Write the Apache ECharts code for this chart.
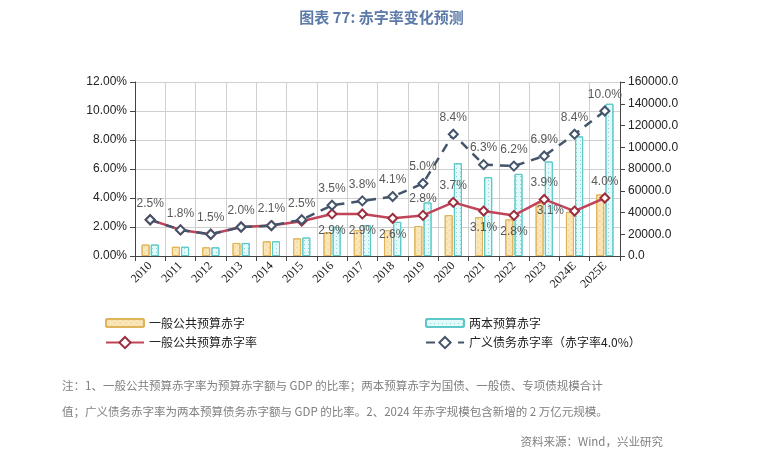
<!DOCTYPE html><html><head><meta charset="utf-8"><script src="https://cdn.jsdelivr.net/npm/echarts@6/dist/echarts.min.js"></script></head><body style="margin:0;background:#fff"><div id="c" style="width:763px;height:457px"></div><script>
const years=['2010','2011','2012','2013','2014','2015','2016','2017','2018','2019','2020','2021','2022','2023','2024E','2025E'];
const generalDeficit=[10500,8500,8000,12000,13500,16200,21800,23800,23800,27600,37600,35700,33700,48800,40600,56600];
const twoBudgetDeficit=[10500,8500,8000,12000,13500,17000,26800,28300,31400,49200,85300,72400,75500,86900,110000,140000];
const generalRate=[2.5,1.8,1.5,2.0,2.1,2.4,2.9,2.9,2.6,2.8,3.7,3.1,2.8,3.9,3.1,4.0];
const broadRate=[2.5,1.8,1.5,2.0,2.1,2.5,3.5,3.8,4.1,5.0,8.4,6.3,6.2,6.9,8.4,10.0];
const redPos=[null,null,null,null,null,null,'bottom','bottom','bottom','top','top','bottom','bottom','top','left','top'];
const c=echarts.init(document.getElementById('c'));
const F='"Noto Sans CJK SC",sans-serif';
const lab={color:'#595959',fontSize:12,fontFamily:'Liberation Sans'};
c.setOption({
animation:false,
title:{text:'图表 77: 赤字率变化预测',left:'center',top:5,textStyle:{color:'#5b7aa8',fontSize:15,fontWeight:'bold',fontFamily:F}},
grid:{left:135,right:143,top:82,bottom:201},
legend:[
{data:['一般公共预算赤字'],left:100,top:312,itemWidth:38,itemHeight:8,textStyle:{fontFamily:F,fontSize:12,color:'#222'}},
{data:['两本预算赤字'],left:420,top:312,itemWidth:38,itemHeight:8,textStyle:{fontFamily:F,fontSize:12,color:'#222'}},
{data:['一般公共预算赤字率'],left:100,top:331,itemWidth:38,textStyle:{fontFamily:F,fontSize:12,color:'#222'}},
{data:['广义债务赤字率（赤字率4.0%）'],left:420,top:331,itemWidth:38,textStyle:{fontFamily:F,fontSize:12,color:'#222'}}],
xAxis:{type:'category',data:years,axisTick:{show:true,alignWithLabel:false,lineStyle:{color:'#444'}},axisLine:{lineStyle:{color:'#444'}},
axisLabel:{rotate:45,color:'#222',fontSize:12,fontFamily:'Liberation Serif',interval:0},splitLine:{show:true,interval:0,lineStyle:{color:'#d0d0d0'}}},
yAxis:[{type:'value',min:0,max:0.12,interval:0.02,axisLine:{show:true,lineStyle:{color:'#444'}},axisTick:{show:true},
axisLabel:{formatter:v=>(v*100).toFixed(2)+'%',color:'#222',fontSize:12,fontFamily:'Liberation Sans'},splitLine:{lineStyle:{color:'#d0d0d0'}}},
{type:'value',min:0,max:160000,interval:20000,axisLine:{show:true,lineStyle:{color:'#444'}},axisTick:{show:true},
axisLabel:{formatter:v=>v.toFixed(1),color:'#222',fontSize:12,fontFamily:'Liberation Sans'},splitLine:{show:false}}],
series:[
{name:'一般公共预算赤字',type:'bar',yAxisIndex:1,data:generalDeficit,barWidth:8,barGap:'15%',
itemStyle:{color:'#fbe7b8',borderColor:'#e0b45a',borderWidth:1,decal:{symbol:'rect',symbolSize:0.6,color:'rgba(190,150,70,0.5)',dashArrayX:[2,2],dashArrayY:[2,2],rotation:0.785}}},
{name:'两本预算赤字',type:'bar',yAxisIndex:1,data:twoBudgetDeficit,barWidth:8,
itemStyle:{color:'#e4fafa',borderColor:'#5cc8c8',borderWidth:1,decal:{symbol:'rect',symbolSize:1,color:'rgba(80,190,190,0.6)',dashArrayX:[[1,3]],dashArrayY:[1,3]}}},
{name:'一般公共预算赤字率',type:'line',data:generalRate.map((v,i)=>({value:v/100,label:{show:redPos[i]!==null,position:redPos[i]||'top'}})),
lineStyle:{color:'#c0455a',width:2.5},symbol:'diamond',symbolSize:9,itemStyle:{color:'#fff',borderColor:'#9b2d3e',borderWidth:2},
label:{...lab,formatter:p=>(p.value*100).toFixed(1)+'%'},z:3},
{name:'广义债务赤字率（赤字率4.0%）',type:'line',data:broadRate.map(v=>v/100),
lineStyle:{color:'#44546a',width:2.5,type:[9,7]},symbol:'diamond',symbolSize:9,itemStyle:{color:'#fff',borderColor:'#44546a',borderWidth:2},
label:{show:true,position:'top',...lab,formatter:p=>(p.value*100).toFixed(1)+'%'},z:4}
],
graphic:[
{type:'text',left:62,top:373,style:{text:'注：1、一般公共预算赤字率为预算赤字额与 GDP 的比率；两本预算赤字为国债、一般债、专项债规模合计\n值；广义债务赤字率为两本预算债务赤字额与 GDP 的比率。2、2024 年赤字规模包含新增的 2 万亿元规模。',fill:'#7f7f7f',font:'11.5px "Noto Sans CJK SC"',lineHeight:26}},
{type:'text',right:100,top:436,style:{text:'资料来源：Wind，兴业研究',fill:'#7f7f7f',font:'11.5px "Noto Sans CJK SC"'}}
]});
</script></body></html>
